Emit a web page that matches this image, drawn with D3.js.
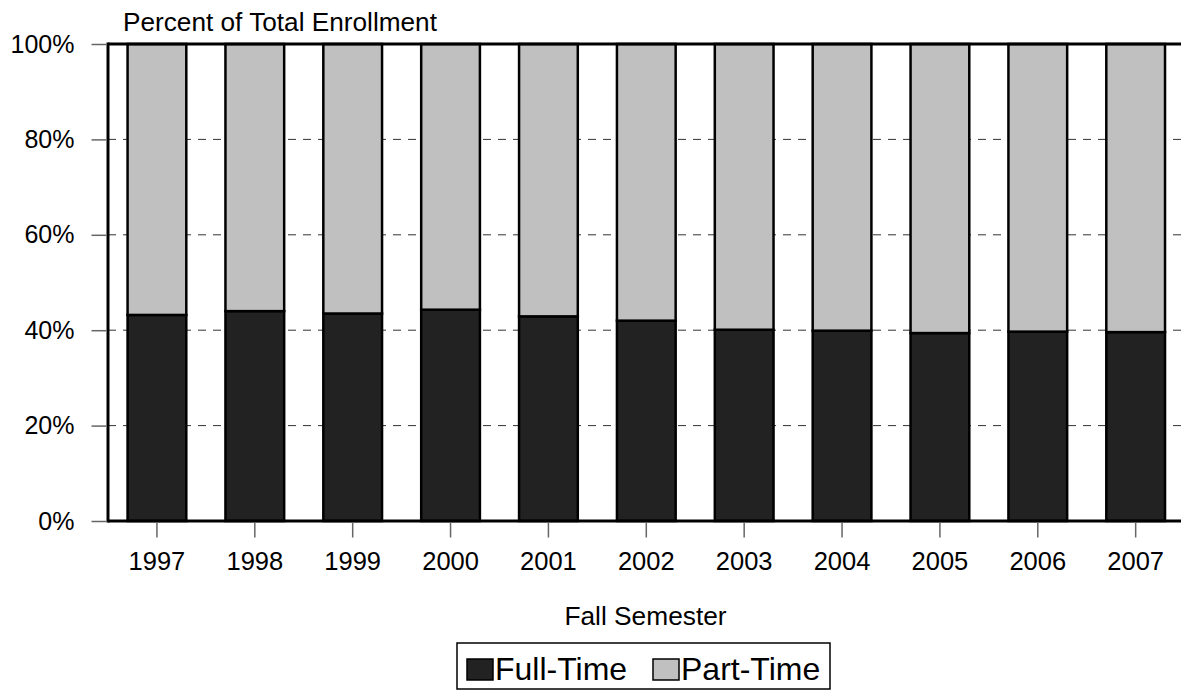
<!DOCTYPE html>
<html>
<head>
<meta charset="utf-8">
<script src="https://cdn.jsdelivr.net/npm/d3@7"></script>
<style>
  html, body { margin: 0; padding: 0; background: #fff; }
  svg { display: block; font-family: "Liberation Sans", Arial, sans-serif; }
</style>
</head>
<body>
<svg id="chart" width="1181" height="690"></svg>
<script>
const years = ["1997","1998","1999","2000","2001","2002","2003","2004","2005","2006","2007"];
const fullTime = [43.2, 44.0, 43.5, 44.3, 42.9, 42.0, 40.1, 39.9, 39.4, 39.7, 39.6];
const partTime = fullTime.map(v => 100 - v);
const yTicks = [0, 20, 40, 60, 80, 100];
const seriesNames = ["Full-Time", "Part-Time"];
const seriesColors = ["#222222", "#c0c0c0"];

const svg = d3.select("#chart");
const plotLeft = 108, plotTop = 44, plotBottom = 521, plotRightEnd = 1184.6;

const x = d3.scaleBand().domain(years).range([plotLeft, plotRightEnd]).paddingInner(0.4).paddingOuter(0.2);
const y = d3.scaleLinear().domain([0, 100]).range([plotBottom, plotTop]);

// gridlines
svg.append("g").selectAll("line").data(yTicks.filter(d => d > 0 && d < 100)).join("line")
  .attr("x1", plotLeft).attr("x2", 1181)
  .attr("y1", d => y(d)).attr("y2", d => y(d))
  .attr("stroke", "#333").attr("stroke-width", 1).attr("stroke-dasharray", "8,7");

// stacked bars
const rows = years.map((yr, i) => ({ year: yr, "Full-Time": fullTime[i], "Part-Time": partTime[i] }));
const stack = d3.stack().keys(seriesNames)(rows);
svg.append("g").selectAll("g").data(stack).join("g")
  .attr("fill", (d, i) => seriesColors[i])
  .selectAll("rect").data(d => d).join("rect")
  .attr("x", d => x(d.data.year))
  .attr("width", x.bandwidth())
  .attr("y", d => y(d[1]))
  .attr("height", d => y(d[0]) - y(d[1]))
  .attr("stroke", "#000").attr("stroke-width", 2.5);

// frame lines
svg.append("line").attr("x1", plotLeft).attr("x2", 1181).attr("y1", plotTop).attr("y2", plotTop)
  .attr("stroke", "#000").attr("stroke-width", 3);
svg.append("line").attr("x1", plotLeft).attr("x2", 1181).attr("y1", plotBottom).attr("y2", plotBottom)
  .attr("stroke", "#000").attr("stroke-width", 3);
svg.append("line").attr("x1", plotLeft).attr("x2", plotLeft).attr("y1", plotTop - 1.5).attr("y2", plotBottom + 1.5)
  .attr("stroke", "#000").attr("stroke-width", 3);

// y axis
const yAxis = d3.axisLeft(y).tickValues(yTicks).tickFormat(d => d + "%").tickSize(15).tickPadding(17);
const ya = svg.append("g").attr("transform", `translate(${plotLeft - 1.5},0)`).call(yAxis);
ya.select(".domain").remove();
ya.selectAll(".tick line").attr("stroke", "#666").attr("stroke-width", 1.5);
ya.selectAll(".tick text").attr("font-size", 25).attr("fill", "#000").attr("font-family", "Liberation Sans, Arial, sans-serif");

// x axis
const xAxis = d3.axisBottom(x).tickSize(15).tickPadding(14);
const xa = svg.append("g").attr("transform", `translate(0,${plotBottom + 1.5})`).call(xAxis);
xa.select(".domain").remove();
xa.selectAll(".tick line").attr("stroke", "#666").attr("stroke-width", 1.5);
xa.selectAll(".tick text").attr("font-size", 25.5).attr("fill", "#000").attr("font-family", "Liberation Sans, Arial, sans-serif");

// titles
svg.append("text").attr("x", 123).attr("y", 31).attr("font-size", 26.2).attr("fill", "#000")
  .text("Percent of Total Enrollment");
svg.append("text").attr("x", 645.5).attr("y", 625).attr("text-anchor", "middle").attr("font-size", 26.3).attr("fill", "#000")
  .text("Fall Semester");

// legend
const lg = svg.append("g");
lg.append("rect").attr("x", 457).attr("y", 643).attr("width", 373).attr("height", 46)
  .attr("fill", "#fff").attr("stroke", "#000").attr("stroke-width", 1.5);
const legendX = [467, 653];
seriesNames.forEach((name, i) => {
  lg.append("rect").attr("x", legendX[i]).attr("y", 659).attr("width", 26).attr("height", 21)
    .attr("fill", seriesColors[i]).attr("stroke", "#000").attr("stroke-width", 1.5);
  lg.append("text").attr("x", legendX[i] + 28).attr("y", 680).attr("font-size", 32).attr("fill", "#000")
    .text(name);
});
</script>
</body>
</html>
